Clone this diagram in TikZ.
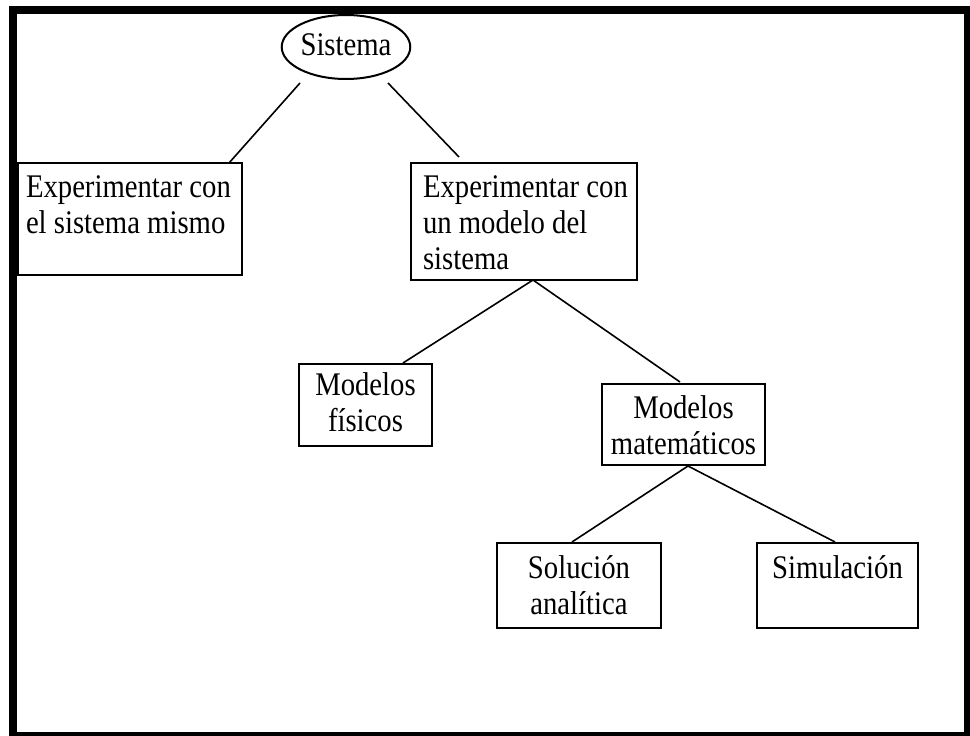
\documentclass[tikz,border=0pt]{standalone}
\usepackage{fontspec}
\setmainfont[FakeStretch=0.87]{Liberation Serif}
\usetikzlibrary{shapes.geometric,calc}

% Box content: width, height, gap from top edge to first baseline, alignment, lines
\newcommand\boxtext[5]{%
  \parbox[c][#2][t]{#1}{\fontsize{33}{36}\selectfont#4%
    \vspace*{\dimexpr#3-25.2pt\relax}\strut#5}}

\tikzset{
  box/.style={draw, line width=2pt, inner sep=0pt, outer sep=0pt},
  oval/.style={ellipse, draw, line width=2pt, inner sep=0pt, outer sep=0pt,
    minimum width=122pt, minimum height=64pt,
    font=\fontsize{33}{36}\selectfont, text height=22pt, text depth=6pt},
  conn/.style={line width=1.6pt},
}

\begin{document}
\begin{tikzpicture}[x=1pt, y=-1pt]
  \useasboundingbox (0,0) rectangle (970,736);
  \fill[white] (0,0) rectangle (970,736);
  % heavy frame
  \fill[black] (9,6) rectangle (970,736);
  \fill[white] (17,14) rectangle (964,732);

  \node[oval] (sis) at (346,47) {Sistema};

  \node[box] (left) at (130,219)
    {\boxtext{224pt}{112pt}{34pt}{\raggedright\leftskip=8pt}{Experimentar con\\el sistema mismo}};
  \node[box] (modelo) at (524,221.5)
    {\boxtext{226pt}{117pt}{34pt}{\raggedright\leftskip=12pt}{Experimentar con\\un modelo del\\sistema}};
  \node[box] (fis) at (365.5,405)
    {\boxtext{133pt}{82pt}{31pt}{\centering}{Modelos\\físicos}};
  \node[box] (mat) at (683.5,424.5)
    {\boxtext{163pt}{81pt}{34pt}{\centering}{Modelos\\matemáticos}};
  \node[box] (sol) at (579,585.5)
    {\boxtext{164pt}{85pt}{35pt}{\centering}{Solución\\analítica}};
  \node[box] (sim) at (837.5,585.5)
    {\boxtext{161pt}{85pt}{35pt}{\centering}{Simulación}};

  \draw[conn] ($(sis.south)+(-46,4)$) -- ($(left.north east)+(-13,0)$);
  \draw[conn] ($(sis.south)+(42,4)$) -- ($(modelo.north west)+(48,-6)$);
  \draw[conn] ($(modelo.south)+(9,0)$) -- ($(fis.north)+(37.5,-1)$);
  \draw[conn] ($(modelo.south)+(9,0)$) -- ($(mat.north)+(-3.5,-2)$);
  \draw[conn] ($(mat.south)+(4.5,1)$) -- ($(sol.north)+(-7,-1)$);
  \draw[conn] ($(mat.south)+(4.5,1)$) -- ($(sim.north)+(-2.5,-1)$);
\end{tikzpicture}
\end{document}
